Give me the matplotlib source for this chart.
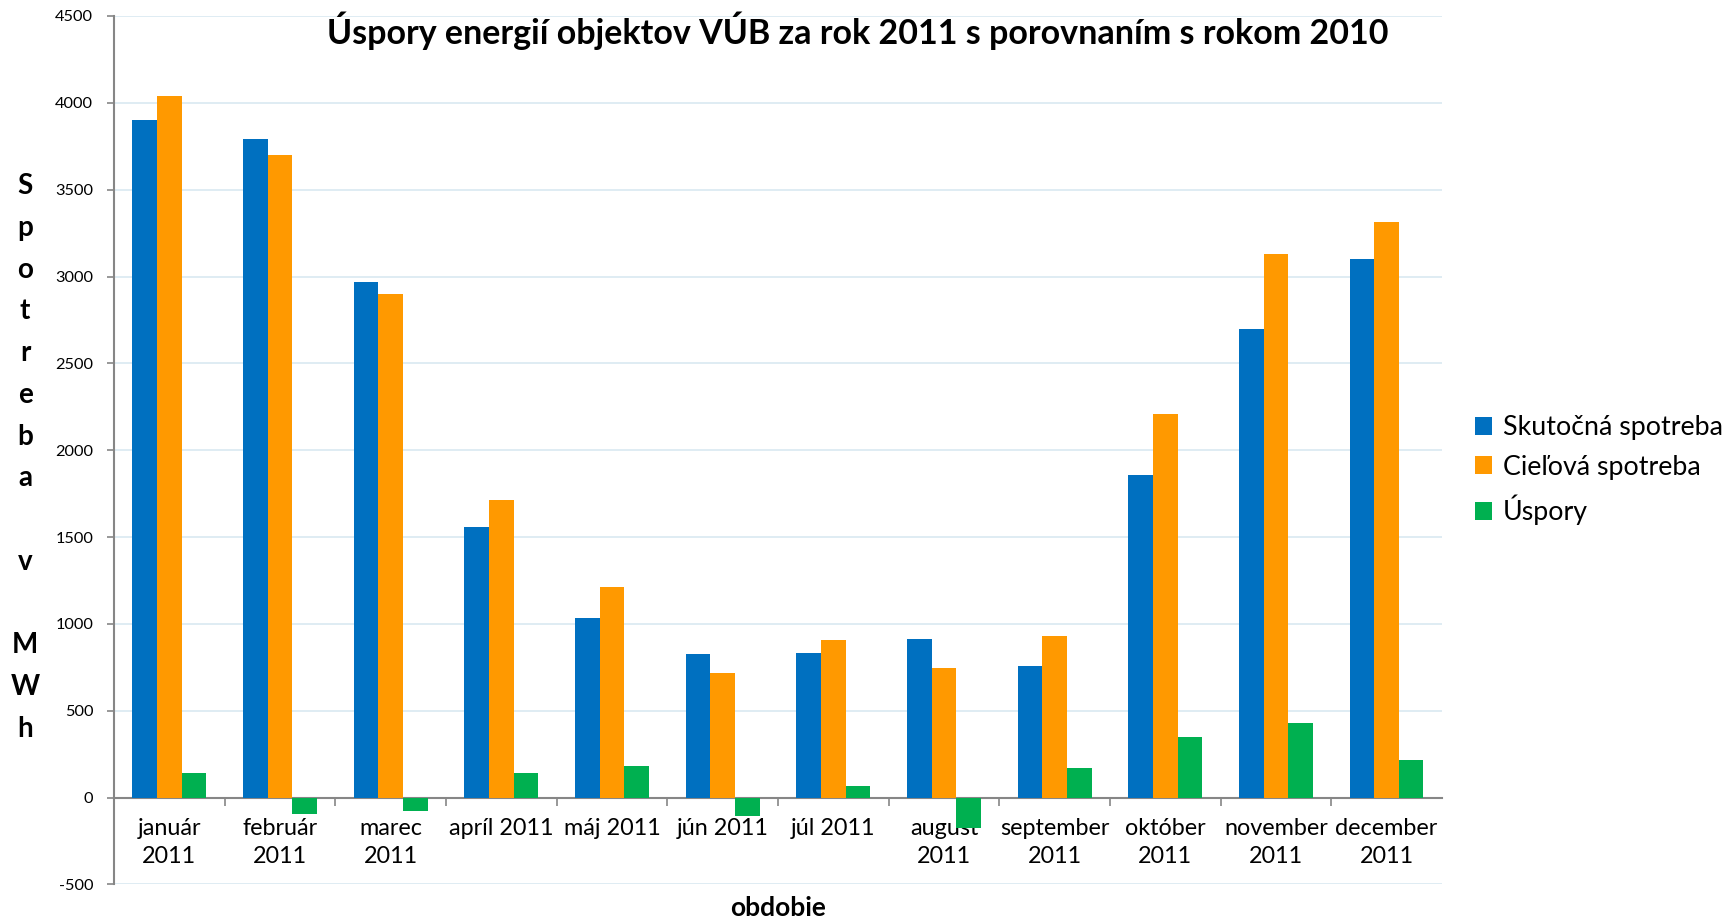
import numpy as np
import matplotlib.pyplot as plt
from matplotlib.patches import Patch

# ---------------- Data ----------------
months = ["január\n2011", "február\n2011", "marec\n2011", "apríl 2011", "máj 2011",
          "jún 2011", "júl 2011", "august\n2011", "september\n2011", "október\n2011",
          "november\n2011", "december\n2011"]
skutocna = [3900, 3790, 2970, 1560, 1035, 825, 835, 912, 755, 1855, 2700, 3100]
cielova = [4040, 3700, 2900, 1712, 1215, 720, 905, 745, 930, 2206, 3130, 3315]
uspory = [140, -92, -77, 140, 180, -108, 68, -172, 172, 348, 428, 215]

series_names = ["Skutočná spotreba", "Cieľová spotreba", "Úspory"]
colors = ["#0070C0", "#FF9900", "#00B050"]

plt.rcParams['font.family'] = ['Lato', 'DejaVu Sans']
plt.rcParams['axes.unicode_minus'] = False

fig = plt.figure(figsize=(17.25, 9.18), dpi=100)
ax = fig.add_axes([0.0661, 0.0365, 0.7698, 0.9461])

x = np.arange(len(months))
w = 1 / 4.5
for k, vals in enumerate([skutocna, cielova, uspory]):
    ax.bar(x + (k - 1) * w, vals, width=w, color=colors[k], zorder=3)

ax.set_xlim(-0.5, len(months) - 0.5)
ax.set_ylim(-500, 4500)
ax.set_yticks(np.arange(-500, 4501, 500))
ax.set_axisbelow(True)
ax.yaxis.grid(True, color="#DCEBF2", linewidth=1.3)

# axes styling
axis_col = "#868686"
for s in ["top", "right"]:
    ax.spines[s].set_visible(False)
ax.spines["left"].set_color(axis_col)
ax.spines["left"].set_linewidth(1.5)
ax.spines["bottom"].set_position(("data", 0))
ax.spines["bottom"].set_color(axis_col)
ax.spines["bottom"].set_linewidth(1.5)

ax.tick_params(axis="y", direction="out", length=5, width=1.2, color=axis_col,
               pad=10, labelsize=11.8)
ax.set_xticks(x)
ax.set_xticklabels(months)
ax.tick_params(axis="x", which="major", length=0, pad=15, labelsize=16.8)
ax.set_xticks(x[:-1] + 0.5, minor=True)
ax.tick_params(axis="x", which="minor", direction="out", length=6, width=1.2,
               color=axis_col)
for lbl in ax.get_xticklabels():
    lbl.set_linespacing(1.4)

# texts
fig.text(0.497, 0.966, "Úspory energií objektov VÚB za rok 2011 s porovnaním s rokom 2010",
         ha="center", va="center", fontsize=24.5, fontweight="bold")
fig.text(0.451, 0.011, "obdobie", ha="center", va="center", fontsize=19,
         fontweight="bold")
fig.text(0.0145, 0.5016, "S\np\no\nt\nr\ne\nb\na\n\nv\n\nM\nW\nh", ha="center",
         va="center", fontsize=20, fontweight="bold", linespacing=1.75)

handles = [Patch(facecolor=c) for c in colors]
fig.legend(handles, series_names, loc="center left",
           bbox_to_anchor=(1475 / 1725, 1 - 470 / 918), frameon=False,
           fontsize=19.3, handlelength=0.65, handleheight=0.65,
           handletextpad=0.4, labelspacing=0.55, borderpad=0, borderaxespad=0)

plt.savefig("out.png", dpi=100)
plt.close()
